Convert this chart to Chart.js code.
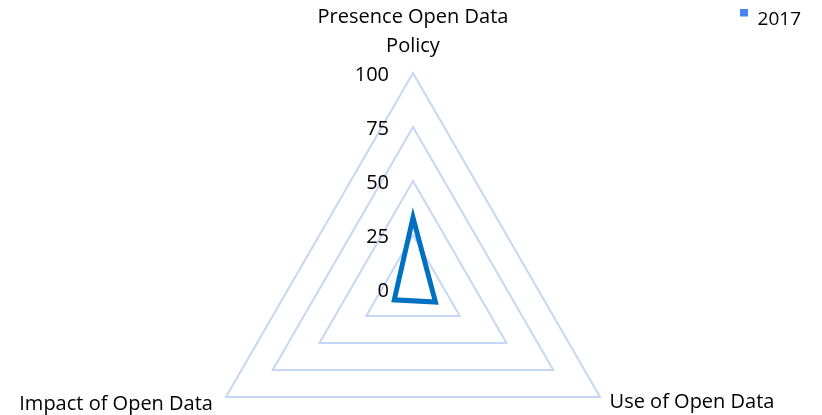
<!DOCTYPE html>
<html lang="en">
<head>
    <meta charset="UTF-8">
    <title>Open Data Radar</title>
    <script src="https://cdn.jsdelivr.net/npm/chart.js"></script>
    <style>
        html, body { margin: 0; padding: 0; background: #fff; overflow: hidden; }
        /* taller than the window: the radar's bounding circle runs below the visible part */
        #wrap { width: 822px; height: 505px; }
    </style>
</head>
<body>
    <div id="wrap"><canvas id="radarChart"></canvas></div>

    <script>
        // Data
        const categories = [['Presence Open Data', 'Policy'], 'Use of Open Data', 'Impact of Open Data'];
        const seriesName = '2017';
        const values2017 = [33, 12, 10];
        const tickValues = [0, 25, 50, 75, 100];

        const FONT = "'Open Sans', sans-serif";
        const LEGEND_BLUE = '#4586f2';

        // legend swatch: small square sitting high, next to the top of the text
        const swatch = document.createElement('canvas');
        swatch.width = 8;
        swatch.height = 22;
        const sctx = swatch.getContext('2d');
        sctx.fillStyle = LEGEND_BLUE;
        sctx.fillRect(0, 0, 8, 8);

        // tick labels sit to the left of the vertical axis, like the original
        const leftTicks = {
            id: 'leftTicks',
            afterDraw(chart) {
                const scale = chart.scales.r;
                const ctx = chart.ctx;
                ctx.save();
                ctx.font = '20px ' + FONT;
                ctx.fillStyle = '#000';
                ctx.textAlign = 'right';
                ctx.textBaseline = 'middle';
                tickValues.forEach(v => {
                    const d = scale.getDistanceFromCenterForValue(v);
                    ctx.fillText(String(v), scale.xCenter - 24, scale.yCenter - d + 2);
                });
                ctx.restore();
            }
        };

        // category labels at the triangle corners (built-in fitting shrinks the radar too much)
        const cornerLabels = {
            id: 'cornerLabels',
            afterDraw(chart) {
                const scale = chart.scales.r;
                const ctx = chart.ctx;
                const lineH = 29;
                const pads = [12, 11, 15];
                ctx.save();
                ctx.font = '20px ' + FONT;
                ctx.fillStyle = '#000';
                ctx.textBaseline = 'middle';
                chart.data.labels.forEach((lbl, i) => {
                    const lines = Array.isArray(lbl) ? lbl : [lbl];
                    const p = scale.getPointPosition(i, scale.drawingArea + pads[i]);
                    if (Math.abs(p.x - scale.xCenter) < 1) {
                        // top corner: stack lines upward from the point
                        ctx.textAlign = 'center';
                        lines.forEach((t, k) => {
                            const y = p.y - (lines.length - k) * lineH + lineH / 2;
                            ctx.fillText(t, p.x, y);
                        });
                    } else {
                        ctx.textAlign = p.x > scale.xCenter ? 'left' : 'right';
                        lines.forEach((t, k) => ctx.fillText(t, p.x, p.y + k * lineH));
                    }
                });
                ctx.restore();
            }
        };

        const ctx = document.getElementById('radarChart').getContext('2d');
        new Chart(ctx, {
            type: 'radar',
            data: {
                labels: categories,
                datasets: [{
                    label: seriesName,
                    data: values2017,
                    borderColor: '#0070c0',
                    backgroundColor: LEGEND_BLUE,
                    borderWidth: 5,
                    fill: false,
                    pointRadius: 0,
                    borderJoinStyle: 'miter'
                }]
            },
            options: {
                responsive: true,
                maintainAspectRatio: false,
                animation: false,
                layout: { padding: { top: 0, bottom: 0, left: 16, right: 11 } },
                plugins: {
                    legend: {
                        position: 'top',
                        align: 'end',
                        labels: {
                            usePointStyle: true,
                            boxWidth: 8,
                            boxHeight: 8,
                            padding: 10,
                            color: '#000',
                            font: { family: FONT, size: 19 },
                            generateLabels(chart) {
                                return chart.data.datasets.map((ds, i) => ({
                                    text: ds.label,
                                    fillStyle: ds.backgroundColor,
                                    strokeStyle: ds.backgroundColor,
                                    lineWidth: 0,
                                    pointStyle: swatch,
                                    datasetIndex: i
                                }));
                            }
                        }
                    },
                    // empty spacer between the legend and the plot
                    subtitle: {
                        display: true,
                        text: ' ',
                        weight: 500,
                        font: { size: 10 },
                        padding: { top: 0, bottom: 22 }
                    },
                    tooltip: { enabled: false }
                },
                scales: {
                    r: {
                        min: 0,
                        max: 100,
                        ticks: { stepSize: 25, display: false },
                        grid: { color: '#c6d7f5', lineWidth: 2 },
                        angleLines: { display: false },
                        pointLabels: { display: false }
                    }
                }
            },
            plugins: [leftTicks, cornerLabels]
        });
    </script>
</body>
</html>
